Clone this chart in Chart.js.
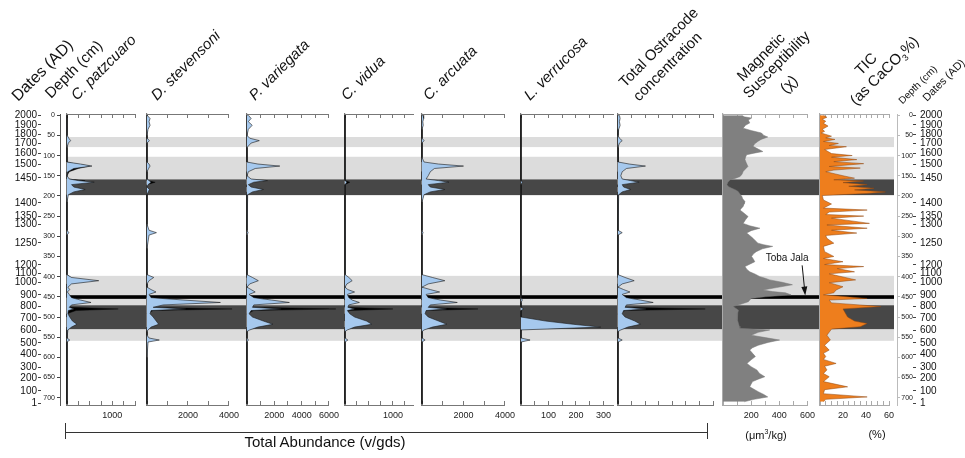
<!DOCTYPE html>
<html>
<head>
<meta charset="utf-8">
<script src="https://cdn.jsdelivr.net/npm/chart.js@4.4.0/dist/chart.umd.min.js"></script>
<style>
  body { margin: 0; background: #fff; }
  #wrap { position: relative; width: 965px; height: 458px; overflow: hidden; font-family: "Liberation Sans", Arial, sans-serif; color: #111; }
  #wrap canvas { position: absolute; }
  .t { position: absolute; white-space: nowrap; transform-origin: 0 100%; transform: rotate(-45deg); line-height: 16px; height: 16px; font-size: 15px; }
  .i { font-style: italic; }
  .s { font-size: 10px; line-height: 11px; height: 11px; }
  .u { position: absolute; font-size: 11px; transform: translateX(-50%); white-space: nowrap; }
</style>
</head>
<body>
<div id="wrap">
  <canvas id="base" width="965" height="458" style="left:0;top:0"></canvas>

  <div class="t" style="left:20px;top:88px;font-size:16px">Dates (AD)</div>
  <div class="t" style="left:53px;top:85px">Depth (cm)</div>
  <div class="t i" style="left:79px;top:87px">C. patzcuaro</div>
  <div class="t i" style="left:159px;top:87px">D. stevensoni</div>
  <div class="t i" style="left:257px;top:87px">P. variegata</div>
  <div class="t i" style="left:349px;top:87px">C. vidua</div>
  <div class="t i" style="left:431px;top:87px">C. arcuata</div>
  <div class="t i" style="left:532px;top:87px">L. verrucosa</div>
  <div class="t" style="left:627px;top:74px">Total Ostracode</div>
  <div class="t" style="left:641px;top:88px">concentration</div>
  <div class="t" style="left:745px;top:68px">Magnetic</div>
  <div class="t" style="left:751px;top:85px">Susceptibility</div>
  <div class="t" style="left:788px;top:80px">(χ)</div>
  <div class="t" style="left:863px;top:62px">TIC</div>
  <div class="t" style="left:858px;top:92px">(as CaCO<sub style="font-size:9px">3</sub>%)</div>
  <div class="t s" style="left:904px;top:95px">Depth (cm)</div>
  <div class="t" style="left:929px;top:90px;font-size:11px;line-height:14px;height:14px">Dates (AD)</div>

  <div style="position:absolute;left:66px;top:432px;width:642px;border-top:1.5px solid #333"></div>
  <div style="position:absolute;left:65px;top:423px;height:16px;border-left:1.5px solid #333"></div>
  <div style="position:absolute;left:707px;top:423px;height:16px;border-left:1.5px solid #333"></div>
  <div class="u" style="left:325px;top:433px;font-size:15px">Total Abundance (v/gds)</div>
  <div class="u" style="left:766px;top:428px">(μm<sup style="font-size:7px">3</sup>/kg)</div>
  <div class="u" style="left:877px;top:428px">(%)</div>
</div>

<script>
// depth model: tick labels on the outer axes
const depthTicks = [0, 50, 100, 150, 200, 250, 300, 350, 400, 450, 500, 550, 600, 650, 700];
const dateDepth = [0, 24, 48, 69, 95, 122, 155, 217, 251, 270, 316, 371, 391, 414, 445, 473, 502, 533, 564, 592, 624, 651, 683, 714];
const dateLabel = ['2000', '1900', '1800', '1700', '1600', '1500', '1450', '1400', '1350', '1300', '1250', '1200', '1100', '1000',
  '900', '800', '700', '600', '500', '400', '300', '200', '100', '1'];

// shaded intervals (depth cm)
const lightBands = [[54, 79], [103, 159], [398, 559]];
const darkBands = [[159, 198], [471, 530]];
const tephraBands = [[446, 455]];

// ostracode samples (depth cm)
const ostDepth = [0, 8, 16, 25, 35, 50, 57, 63, 69, 80,
  105, 116, 121, 126, 132, 140, 150, 158, 162, 166,
  172, 178, 184, 190, 197, 215, 270, 285, 291, 297,
  330, 395, 402, 410, 418, 426, 432, 438, 444, 452,
  458, 464, 470, 476, 480, 484, 492, 500, 510, 518,
  525, 532, 536, 545, 552, 557, 562, 600, 650, 690, 715];

const patzBlue = [0, 10, 0, 10, 0, 0, 40, 80, 30, 0,
  0, 0, 300, 550, 150, 20, 0, 50, 250, 600,
  100, 150, 400, 150, 30, 0, 0, 0, 40, 0,
  0, 0, 100, 700, 100, 20, 60, 10, 50, 100,
  300, 530, 100, 50, 150, 30, 20, 60, 120, 220,
  100, 20, 0, 0, 0, 60, 0, 0, 0, 0, 0];
const patzBlack = [0, 0, 0, 0, 0, 0, 0, 0, 0, 0,
  0, 0, 200, 500, 250, 50, 0, 0, 400, 200,
  0, 100, 200, 80, 0, 0, 0, 0, 0, 0,
  0, 0, 80, 200, 0, 0, 0, 0, 0, 0,
  80, 150, 0, 100, 1130, 200, 0, 0, 60, 100,
  0, 0, 0, 0, 0, 0, 0, 0, 0, 0, 0];

const stevBlue = [0, 150, 100, 150, 50, 0, 0, 120, 0, 0,
  0, 0, 100, 150, 80, 0, 0, 0, 100, 200,
  50, 0, 120, 60, 0, 0, 0, 100, 460, 100,
  0, 0, 330, 100, 0, 0, 200, 440, 100, 200,
  1800, 3580, 800, 300, 1900, 200, 150, 300, 450, 570,
  200, 50, 0, 0, 100, 600, 50, 0, 0, 0, 0];
const stevBlack = [0, 0, 0, 0, 0, 0, 0, 0, 0, 0,
  0, 0, 0, 0, 0, 0, 0, 0, 0, 400,
  0, 0, 0, 0, 0, 0, 0, 0, 0, 0,
  0, 0, 0, 0, 0, 0, 0, 0, 0, 0,
  300, 400, 200, 150, 4150, 300, 0, 150, 100, 200,
  0, 0, 0, 0, 0, 0, 0, 0, 0, 0, 0];

const variBlue = [100, 300, 100, 380, 100, 0, 200, 900, 300, 0,
  0, 0, 800, 2400, 600, 100, 0, 300, 1500, 500,
  100, 300, 1200, 400, 50, 0, 0, 0, 80, 0,
  0, 0, 400, 830, 200, 0, 300, 600, 150, 500,
  1800, 3100, 500, 400, 2500, 300, 150, 400, 1200, 1900,
  800, 200, 0, 0, 0, 100, 0, 0, 0, 0, 0];
const variBlack = [0, 0, 0, 0, 0, 0, 0, 0, 0, 0,
  0, 0, 300, 800, 200, 0, 0, 0, 600, 300,
  0, 0, 200, 0, 0, 0, 0, 0, 0, 0,
  0, 0, 0, 200, 0, 0, 0, 0, 0, 0,
  300, 500, 100, 500, 6500, 500, 0, 100, 200, 300,
  0, 0, 0, 0, 0, 0, 0, 0, 0, 0, 0];

const viduBlue = [0, 10, 0, 0, 0, 0, 0, 10, 0, 0,
  0, 0, 0, 20, 0, 0, 0, 0, 0, 40,
  0, 0, 20, 0, 0, 0, 0, 0, 20, 0,
  0, 0, 80, 150, 40, 0, 60, 200, 50, 80,
  150, 300, 80, 60, 200, 50, 100, 200, 450, 560,
  200, 50, 0, 0, 0, 60, 0, 0, 0, 0, 0];
const viduBlack = [0, 0, 0, 0, 0, 0, 0, 0, 0, 0,
  0, 0, 0, 0, 0, 0, 0, 0, 0, 100,
  0, 0, 0, 0, 0, 0, 0, 0, 0, 0,
  0, 0, 0, 0, 0, 0, 0, 0, 0, 0,
  0, 60, 0, 0, 1000, 100, 0, 0, 0, 80,
  0, 0, 0, 0, 0, 0, 0, 0, 0, 0, 0];

const arcuBlue = [50, 80, 40, 60, 0, 0, 0, 100, 0, 0,
  0, 100, 800, 2000, 600, 400, 300, 200, 800, 1300,
  300, 400, 1100, 400, 100, 0, 0, 0, 50, 0,
  0, 0, 500, 1100, 300, 0, 400, 850, 200, 300,
  900, 1700, 400, 300, 1200, 200, 150, 300, 800, 1200,
  500, 100, 0, 0, 0, 150, 0, 0, 0, 0, 0];
const arcuBlack = [0, 0, 0, 0, 0, 0, 0, 0, 0, 0,
  0, 0, 100, 400, 100, 0, 0, 0, 0, 300,
  0, 0, 0, 0, 0, 0, 0, 0, 0, 0,
  0, 0, 0, 0, 0, 0, 0, 0, 0, 0,
  0, 200, 0, 0, 2700, 200, 0, 0, 0, 0,
  0, 0, 0, 0, 0, 0, 0, 0, 0, 0, 0];

const verrBlue = [0, 0, 0, 0, 0, 0, 0, 0, 0, 0,
  0, 0, 0, 0, 0, 0, 0, 0, 0, 5,
  0, 0, 0, 0, 0, 0, 0, 0, 0, 0,
  0, 0, 0, 0, 0, 0, 0, 0, 0, 0,
  5, 0, 0, 0, 10, 0, 0, 0, 90, 190,
  290, 0, 0, 0, 0, 33, 0, 0, 0, 0, 0];
const verrBlack = [0, 0, 0, 0, 0, 0, 0, 0, 0, 0,
  0, 0, 0, 0, 0, 0, 0, 0, 0, 0,
  0, 0, 0, 0, 0, 0, 0, 0, 0, 0,
  0, 0, 0, 0, 0, 0, 0, 0, 0, 0,
  0, 0, 0, 0, 8, 0, 0, 0, 0, 0,
  0, 0, 0, 0, 0, 0, 0, 0, 0, 0, 0];

const totBlue = [100, 150, 100, 150, 50, 0, 100, 300, 100, 0,
  0, 50, 800, 1950, 600, 300, 200, 300, 900, 1500,
  300, 400, 900, 300, 50, 0, 0, 0, 300, 0,
  0, 0, 500, 1150, 300, 0, 400, 850, 300, 600,
  1600, 2500, 600, 500, 2000, 400, 300, 500, 1200, 1600,
  700, 200, 0, 0, 0, 300, 0, 0, 0, 0, 0];
const totBlack = [0, 0, 0, 0, 0, 0, 0, 0, 0, 0,
  0, 0, 300, 900, 300, 0, 0, 0, 600, 1200,
  0, 0, 200, 0, 0, 0, 0, 0, 0, 0,
  0, 0, 0, 200, 0, 0, 0, 0, 0, 0,
  300, 600, 100, 500, 6200, 500, 0, 100, 200, 300,
  0, 0, 0, 0, 0, 0, 0, 0, 0, 0, 0];

// magnetic susceptibility
const magDepth = [0, 4, 7, 12, 19, 25, 32, 38, 44, 50,
  54, 60, 65, 71, 77, 84, 90, 94, 98, 104,
  110, 118, 127, 133, 139, 146, 152, 156, 160, 166,
  172, 177, 181, 185, 189, 195, 201, 207, 214, 220,
  226, 231, 235, 243, 251, 259, 268, 274, 280, 286,
  292, 298, 305, 311, 317, 321, 325, 331, 338, 344,
  350, 356, 363, 369, 375, 382, 388, 394, 400, 404,
  408, 414, 420, 427, 433, 437, 440, 445, 450, 454,
  458, 462, 468, 474, 478, 483, 490, 499, 507, 516,
  522, 528, 532, 538, 545, 551, 557, 563, 570, 576,
  582, 590, 598, 606, 615, 623, 631, 640, 648, 654,
  660, 666, 673, 679, 685, 692, 698, 704, 710];
const magValue = [133, 150, 203, 180, 190, 160, 143, 200, 273, 290,
  318, 270, 247, 225, 213, 250, 283, 220, 168, 160,
  156, 165, 177, 160, 144, 135, 121, 90, 51, 35,
  28, 40, 63, 90, 108, 120, 133, 140, 156, 150,
  143, 130, 121, 150, 178, 160, 143, 190, 262, 200,
  168, 190, 213, 230, 248, 290, 353, 280, 236, 215,
  203, 215, 226, 190, 156, 170, 190, 230, 262, 300,
  332, 420, 493, 380, 283, 350, 443, 483, 300, 200,
  190, 180, 130, 72, 90, 110, 105, 100, 105, 110,
  115, 120, 332, 250, 200, 300, 402, 320, 250, 210,
  190, 210, 230, 200, 170, 200, 240, 260, 297, 250,
  210, 200, 190, 220, 250, 290, 318, 220, 150];

// total inorganic carbon (% CaCO3)
const ticDepth = [0, 5, 10, 15, 20, 27, 35, 40, 44, 52,
  56, 60, 65, 70, 75, 78, 85, 95, 100, 104,
  110, 115, 120, 127, 131, 136, 140, 150, 156, 160,
  163, 167, 172, 176, 181, 185, 190, 194, 199, 210,
  220, 230, 235, 240, 246, 250, 255, 268, 272, 280,
  285, 292, 298, 305, 317, 325, 338, 350, 355, 363,
  370, 375, 380, 388, 393, 408, 415, 425, 433, 440,
  445, 454, 458, 465, 474, 480, 490, 500, 510, 516,
  524, 530, 545, 557, 570, 582, 590, 598, 605, 615,
  622, 631, 640, 648, 660, 673, 680, 690, 698, 704, 710];
const ticValue = [3, 6, 2, 5, 3, 7, 2, 4, 1, 10,
  5, 13, 3, 16, 8, 23, 4, 10, 28, 10,
  32, 12, 38, 8, 35, 12, 5, 20, 30, 12,
  38, 20, 41, 25, 47, 30, 57, 40, 2, 3,
  10, 3, 41, 8, 5, 38, 10, 43, 6, 41,
  10, 32, 5, 6, 12, 3, 4, 12, 3, 20,
  4, 38, 15, 30, 8, 31, 8, 20, 14, 12,
  3, 41, 8, 10, 53, 20, 22, 24, 30, 41,
  35, 10, 6, 9, 4, 8, 3, 5, 3, 14,
  4, 6, 3, 8, 3, 24, 4, 3, 41, 5, 3];

// Toba Jala tephra note, in magnetic susceptibility units / depth
const tobaNote = { text: 'Toba Jala', at: [455, 354], from: [562, 372], to: [584, 447] };

Chart.defaults.font.family = "'Liberation Sans', Arial, sans-serif";
Chart.defaults.color = '#222';

const DEPTH_MIN = -3, DEPTH_MAX = 718;
const PAD = 16;
const wrap = document.getElementById('wrap');

const looks = {
  blue: { fill: '#a6c9ee', line: '#1a1a1a', lw: 0.6 },
  black: { fill: '#000', line: '#000', lw: 0.4 },
  mag: { fill: '#808080', line: '#777', lw: 0.5 },
  tic: { fill: '#ee7e1d', line: '#8e4710', lw: 0.5 }
};

const panels = [
  { left: 67, right: 134.5, max: 1500, step: 250, every: 1000, series: [[ostDepth, patzBlue, 'blue'], [ostDepth, patzBlack, 'black']] },
  { left: 147.3, right: 232, max: 4000, step: 1000, every: 2000, series: [[ostDepth, stevBlue, 'blue'], [ostDepth, stevBlack, 'black']] },
  { left: 246.7, right: 331.5, max: 6000, step: 1000, every: 2000, series: [[ostDepth, variBlue, 'blue'], [ostDepth, variBlack, 'black']] },
  { left: 345, right: 413.3, max: 1420, step: 250, every: 1000, series: [[ostDepth, viduBlue, 'blue'], [ostDepth, viduBlack, 'black']] },
  { left: 421.7, right: 507.7, max: 4000, step: 1000, every: 2000, series: [[ostDepth, arcuBlue, 'blue'], [ostDepth, arcuBlack, 'black']] },
  { left: 521, right: 613, max: 335, step: 50, every: 100, series: [[ostDepth, verrBlue, 'blue'], [ostDepth, verrBlack, 'black']] },
  { left: 617.7, right: 713, max: 6750, step: 1000, every: 2000, series: [[ostDepth, totBlue, 'blue'], [ostDepth, totBlack, 'black']] },
  { left: 722.7, right: 808, max: 600, step: 100, every: 200, axis: '#aaa', note: tobaNote, series: [[magDepth, magValue, 'mag']] },
  { left: 819.6, right: 888.6, max: 60, step: 5, every: 20, axis: '#aaa', series: [[ticDepth, ticValue, 'tic']] }
];

const bandPlugin = {
  id: 'bands',
  beforeDatasetsDraw(chart) {
    const { ctx, chartArea: a } = chart;
    const y = chart.scales.depthL;
    const paint = (list, color) => list.forEach(([d0, d1]) => {
      const p0 = y.getPixelForValue(d0), p1 = y.getPixelForValue(d1);
      ctx.fillStyle = color;
      ctx.fillRect(a.left, p0, a.right - a.left, p1 - p0);
    });
    ctx.save();
    paint(lightBands, '#dcdcdc');
    paint(darkBands, '#474747');
    paint(tephraBands, '#000');
    ctx.restore();
  }
};

const notePlugin = {
  id: 'note',
  afterDatasetsDraw(chart, args, opts) {
    const n = opts.note;
    if (!n) return;
    const { ctx, scales: { x, y } } = chart;
    const tx = x.getPixelForValue(n.at[0]), ty = y.getPixelForValue(n.at[1]);
    const x0 = x.getPixelForValue(n.from[0]), y0 = y.getPixelForValue(n.from[1]);
    const x1 = x.getPixelForValue(n.to[0]), y1 = y.getPixelForValue(n.to[1]);
    ctx.save();
    ctx.fillStyle = '#111';
    ctx.font = "10px 'Liberation Sans', Arial, sans-serif";
    ctx.textAlign = 'center';
    ctx.textBaseline = 'middle';
    ctx.fillText(n.text, tx, ty);
    const ang = Math.atan2(y1 - y0, x1 - x0);
    ctx.strokeStyle = '#111';
    ctx.lineWidth = 1;
    ctx.beginPath();
    ctx.moveTo(x0, y0);
    ctx.lineTo(x1 - 6 * Math.cos(ang), y1 - 6 * Math.sin(ang));
    ctx.stroke();
    ctx.beginPath();
    ctx.moveTo(x1, y1);
    ctx.lineTo(x1 - 9 * Math.cos(ang) + 3 * Math.sin(ang), y1 - 9 * Math.sin(ang) - 3 * Math.cos(ang));
    ctx.lineTo(x1 - 9 * Math.cos(ang) - 3 * Math.sin(ang), y1 - 9 * Math.sin(ang) + 3 * Math.cos(ang));
    ctx.closePath();
    ctx.fill();
    ctx.restore();
  }
};

// background: bands plus depth / date axes on both sides
const sideAxis = (position, weight, width, extra) => Object.assign({
  type: 'linear', axis: 'y', position, weight, reverse: true, min: DEPTH_MIN, max: DEPTH_MAX,
  grid: { drawOnChartArea: false, tickLength: 3, color: '#444' },
  border: { display: false },
  afterFit: s => { s.width = width; }
}, extra);

new Chart(document.getElementById('base'), {
  type: 'line',
  data: { datasets: [] },
  options: {
    responsive: false, animation: false, events: [],
    layout: { padding: { top: 114, bottom: 53, left: 0, right: 0 } },
    plugins: { legend: { display: false }, tooltip: { enabled: false } },
    scales: {
      x: { type: 'linear', display: false, min: 0, max: 1 },
      datesL: sideAxis('left', 2, 41, {
        afterBuildTicks: s => { s.ticks = dateDepth.map(v => ({ value: v })); },
        ticks: { callback: v => dateLabel[dateDepth.indexOf(v)], autoSkip: false, font: { size: 10 }, color: '#111', padding: 1 }
      }),
      depthL: sideAxis('left', 1, 19, {
        afterBuildTicks: s => { s.ticks = depthTicks.map(v => ({ value: v })); },
        ticks: { autoSkip: false, font: { size: 7 }, color: '#222', padding: 2 },
        border: { display: true, color: '#555', width: 1 }
      }),
      gapL: sideAxis('left', 0, 6, { ticks: { display: false }, grid: { display: false } }),
      gapR: sideAxis('right', 0, 3, { ticks: { display: false }, grid: { display: false } }),
      depthR: sideAxis('right', 1, 16, {
        afterBuildTicks: s => { s.ticks = depthTicks.map(v => ({ value: v })); },
        ticks: { autoSkip: false, font: { size: 7 }, color: '#222', padding: 2, crossAlign: 'far' },
        grid: { drawOnChartArea: false, tickLength: 3, color: '#bbb' },
        border: { display: true, color: '#bbb', width: 1 }
      }),
      datesR: sideAxis('right', 2, 52, {
        afterBuildTicks: s => { s.ticks = dateDepth.map(v => ({ value: v })); },
        ticks: { callback: v => dateLabel[dateDepth.indexOf(v)], autoSkip: false, font: { size: 10 }, color: '#111', padding: 4 }
      })
    }
  },
  plugins: [bandPlugin]
});

// one chart per proxy column
panels.forEach(p => {
  const c = document.createElement('canvas');
  c.width = Math.round(p.right - p.left) + 2 * PAD;
  c.height = 317;
  c.style.left = (p.left - PAD) + 'px';
  c.style.top = '112px';
  wrap.appendChild(c);
  const axisColor = p.axis || '#777';
  const xBase = { type: 'linear', min: 0, max: p.max };

  new Chart(c, {
    type: 'line',
    data: {
      datasets: p.series.map(([depths, vals, look]) => ({
        data: depths.map((d, i) => ({ x: vals[i], y: d })),
        xAxisID: 'x', yAxisID: 'y',
        fill: 'origin',
        backgroundColor: looks[look].fill,
        borderColor: looks[look].line,
        borderWidth: looks[look].lw,
        pointRadius: 0, tension: 0, clip: false
      }))
    },
    options: {
      indexAxis: 'y', responsive: false, animation: false, events: [],
      layout: { padding: { left: PAD, right: PAD, top: 2, bottom: 0 } },
      plugins: { legend: { display: false }, tooltip: { enabled: false }, note: { note: p.note } },
      scales: {
        x: Object.assign({}, xBase, {
          position: 'bottom',
          ticks: {
            stepSize: p.step, includeBounds: false, autoSkip: false, maxRotation: 0, padding: 9,
            font: { size: 9 }, color: '#222',
            callback: v => (v > 0 && v % p.every === 0) ? String(v) : ''
          },
          grid: { drawOnChartArea: false, tickLength: -4, color: axisColor },
          border: { color: axisColor, width: 1 },
          afterFit: s => { s.height = 24; }
        }),
        xTop: Object.assign({}, xBase, {
          position: 'top', axis: 'x',
          ticks: { display: false, stepSize: p.step, includeBounds: false },
          grid: { drawOnChartArea: false, tickLength: -4, color: axisColor },
          border: { color: axisColor, width: 1 },
          afterFit: s => { s.height = 0; }
        }),
        y: {
          type: 'linear', position: 'left', reverse: true, min: DEPTH_MIN, max: DEPTH_MAX,
          ticks: { display: false }, grid: { display: false },
          border: { color: axisColor, width: 1.2 },
          afterFit: s => { s.width = 0; }
        }
      }
    },
    plugins: [notePlugin]
  });
});
</script>
</body>
</html>
